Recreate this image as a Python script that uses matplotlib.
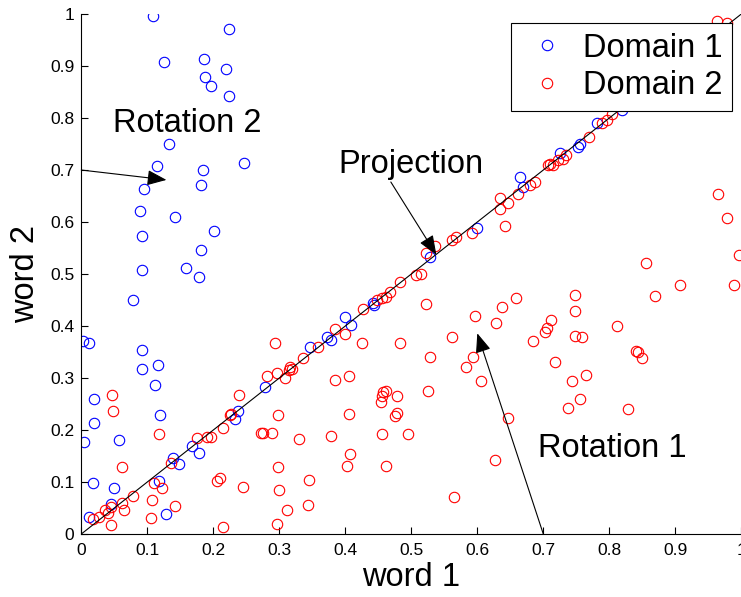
from matplotlib import pyplot as plt
import numpy as np

plt.rcParams['font.family'] = ['Liberation Sans', 'DejaVu Sans']

# Domain 1 (blue)
d1_x = [0.109, 0.224, 0.125, 0.186, 0.220, 0.188, 0.197, 0.224, 0.133, 0.246,
        0.114, 0.185, 0.182, 0.095, 0.089, 0.142, 0.201, 0.092, 0.181, 0.159,
        0.092, 0.179, 0.078, 0.002, 0.011, 0.092, 0.092, 0.116, 0.111, 0.019,
        0.119, 0.020, 0.057, 0.004, 0.018, 0.050, 0.012, 0.045, 0.128,
        0.117, 0.139, 0.148, 0.168, 0.178, 0.233, 0.238, 0.278, 0.347, 0.373,
        0.378, 0.400, 0.408, 0.442, 0.444, 0.528, 0.600, 0.665, 0.669, 0.725,
        0.756, 0.752, 0.781, 0.819]
d1_y = [0.997, 0.971, 0.908, 0.914, 0.894, 0.878, 0.862, 0.843, 0.751, 0.713,
        0.708, 0.700, 0.671, 0.663, 0.622, 0.610, 0.583, 0.574, 0.546, 0.512,
        0.508, 0.494, 0.450, 0.372, 0.368, 0.353, 0.317, 0.325, 0.287, 0.260,
        0.228, 0.213, 0.181, 0.176, 0.099, 0.088, 0.033, 0.058, 0.038,
        0.102, 0.146, 0.134, 0.170, 0.156, 0.221, 0.236, 0.283, 0.359, 0.379,
        0.373, 0.417, 0.402, 0.444, 0.440, 0.532, 0.588, 0.686, 0.668, 0.732,
        0.751, 0.744, 0.791, 0.815]

# Domain 2 (red)
d2_x = [0.047, 0.048, 0.117, 0.062, 0.045, 0.018, 0.027, 0.036, 0.041, 0.045,
        0.064, 0.061, 0.078, 0.107, 0.106, 0.110, 0.123, 0.142, 0.136, 0.175,
        0.190, 0.196, 0.214, 0.206, 0.210, 0.214, 0.245, 0.227, 0.226, 0.239,
        0.272, 0.276, 0.289, 0.298, 0.298, 0.300, 0.296, 0.311, 0.293, 0.281,
        0.296, 0.309, 0.314, 0.316, 0.319, 0.330, 0.336, 0.358,
        0.384, 0.400, 0.427, 0.448, 0.455, 0.462, 0.468, 0.483, 0.507, 0.515,
        0.522, 0.536, 0.425, 0.483, 0.561, 0.529, 0.523, 0.384, 0.405, 0.457,
        0.462, 0.456, 0.454, 0.478, 0.525, 0.406, 0.478, 0.476, 0.647, 0.379,
        0.455, 0.495, 0.407, 0.403, 0.461, 0.627, 0.345, 0.343, 0.564,
        0.596, 0.628, 0.637, 0.658, 0.593, 0.583, 0.605, 0.684, 0.702, 0.705,
        0.711, 0.718, 0.965, 0.978, 0.997, 0.855, 0.907, 0.989, 0.870, 0.748,
        0.748, 0.812, 0.748, 0.758, 0.840, 0.843, 0.849, 0.764, 0.744, 0.756,
        0.737, 0.829,
        0.561, 0.568, 0.592, 0.642, 0.634, 0.635, 0.647, 0.661, 0.680, 0.687,
        0.707, 0.710, 0.715, 0.723, 0.730, 0.735, 0.770, 0.789, 0.796, 0.804,
        0.963, 0.978]
d2_y = [0.268, 0.236, 0.193, 0.128, 0.017, 0.028, 0.033, 0.046, 0.041, 0.052,
        0.046, 0.059, 0.073, 0.065, 0.030, 0.099, 0.089, 0.054, 0.136, 0.184,
        0.187, 0.187, 0.203, 0.102, 0.108, 0.014, 0.091, 0.231, 0.228, 0.267,
        0.194, 0.194, 0.194, 0.228, 0.128, 0.085, 0.019, 0.047, 0.367, 0.303,
        0.309, 0.301, 0.315, 0.321, 0.317, 0.182, 0.338, 0.360,
        0.394, 0.384, 0.433, 0.451, 0.453, 0.455, 0.466, 0.485, 0.498, 0.501,
        0.540, 0.553, 0.367, 0.367, 0.378, 0.340, 0.442, 0.297, 0.304, 0.274,
        0.276, 0.265, 0.254, 0.266, 0.275, 0.230, 0.233, 0.227, 0.224, 0.189,
        0.192, 0.192, 0.153, 0.131, 0.131, 0.142, 0.103, 0.056, 0.071,
        0.419, 0.405, 0.436, 0.454, 0.341, 0.321, 0.294, 0.372, 0.389, 0.397,
        0.412, 0.331, 0.654, 0.607, 0.537, 0.521, 0.479, 0.479, 0.457, 0.460,
        0.428, 0.401, 0.380, 0.378, 0.352, 0.350, 0.338, 0.306, 0.295, 0.260,
        0.242, 0.240,
        0.565, 0.572, 0.579, 0.592, 0.646, 0.625, 0.636, 0.654, 0.671, 0.677,
        0.710, 0.712, 0.710, 0.719, 0.722, 0.728, 0.764, 0.790, 0.796, 0.808,
        0.987, 0.983]

ticks = np.arange(0, 1.01, 0.1)
tick_labels = ["0", "0.1", "0.2", "0.3", "0.4", "0.5", "0.6", "0.7", "0.8", "0.9", "1"]

fig = plt.figure(figsize=(7.41, 5.97), dpi=100)
ax = fig.add_axes([0.1097, 0.1055, 0.8907, 0.8710])

ax.plot(d1_x, d1_y, 'o', mfc='none', mec=(0, 0, 1), ms=7.5, mew=0.8, label="Domain 1")
ax.plot(d2_x, d2_y, 'o', mfc='none', mec=(1, 0, 0), ms=7.5, mew=0.8, label="Domain 2")
ax.axline((0, 0), slope=1, color='k', lw=0.8)

ax.set_xlim(0, 1)
ax.set_ylim(0, 1)
ax.set_xticks(ticks)
ax.set_xticklabels(tick_labels)
ax.set_yticks(ticks)
ax.set_yticklabels(tick_labels)
ax.tick_params(direction='in', length=5, width=0.8, labelsize=12.5)
ax.tick_params(axis='x', pad=6.5)
ax.tick_params(axis='y', pad=5)
ax.spines['top'].set_visible(False)
ax.spines['right'].set_visible(False)

ax.set_xlabel("word 1", fontsize=23.5, va='center')
ax.set_ylabel("word 2", fontsize=23.5, va='center')
ax.xaxis.set_label_coords(0.5, -0.083)
ax.yaxis.set_label_coords(-0.084, 0.5)

arrow = dict(arrowstyle='-|>,head_length=0.7,head_width=0.28', color='k', lw=0.8,
             mutation_scale=17, shrinkA=0, shrinkB=0)
ax.annotate("", xy=(0.129, 0.681), xytext=(0.0, 0.700), arrowprops=arrow)
ax.annotate("", xy=(0.538, 0.537), xytext=(0.469, 0.677), arrowprops=arrow)
ax.annotate("", xy=(0.600, 0.386), xytext=(0.700, 0.0), arrowprops=arrow)

ax.text(0.16, 0.790, "Rotation 2", fontsize=23.5, ha='center', va='center')
ax.text(0.499, 0.710, "Projection", fontsize=23.5, ha='center', va='center')
ax.text(0.804, 0.165, "Rotation 1", fontsize=23.5, ha='center', va='center')

leg = ax.legend(loc='upper right', bbox_to_anchor=(0.986, 0.983), borderaxespad=0,
                fontsize=23.5, fancybox=False, framealpha=1, edgecolor='k',
                handlelength=1.66, handletextpad=0.25, borderpad=0.3, labelspacing=0.2)
leg.get_frame().set_linewidth(0.8)

fig.savefig("out.png", dpi=100)
plt.close()
